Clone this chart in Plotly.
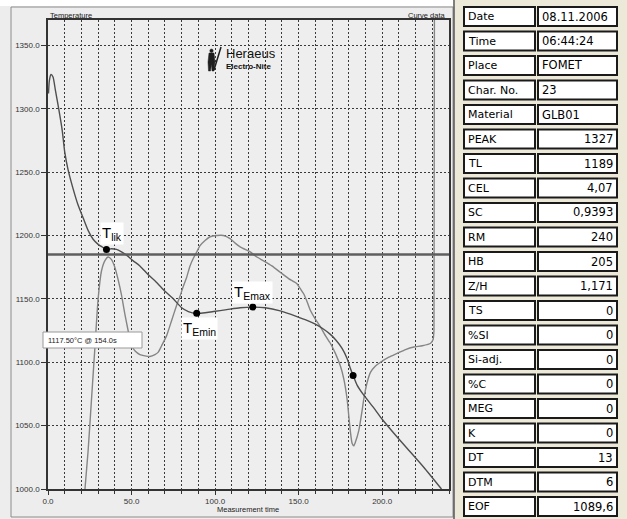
import plotly.graph_objects as go

# ---- thermal analysis data ----
# cooling curve: measurement time [s] / temperature [°C]
cool_t = [0.3, 0.8, 1.8, 3.0, 4.5, 6.4, 8.5, 10, 12, 15, 18, 21, 24, 27, 30, 33, 35,
          38, 41, 44, 47, 51, 55, 60, 65, 70, 75, 80, 84, 89, 94, 99, 107, 115, 122.6,
          130, 139, 149, 155, 160, 165, 169, 172, 176, 179, 181, 182.6, 185, 189, 195,
          200, 207, 215, 225, 235.5]
cool_T = [1312, 1322, 1327, 1325, 1314, 1300, 1283, 1266, 1252, 1237, 1224, 1214, 1204,
          1197, 1193, 1190.5, 1189, 1189.5, 1189, 1187, 1184.5, 1180, 1176, 1169, 1163,
          1156, 1150, 1143, 1140, 1138.6, 1139, 1140, 1141.5, 1143, 1143.5, 1143, 1140.5,
          1136, 1133, 1130, 1126, 1122, 1118, 1111, 1103, 1095, 1089.6, 1082, 1074, 1064,
          1055, 1044, 1032, 1017, 1000]

# second curve
deriv_t = [21.5, 24, 26, 28, 30, 32, 34, 36, 38, 40, 42, 44, 46, 47.5, 49, 50.5, 52, 55,
           58, 61, 64, 66, 68, 71, 74, 77, 79, 81, 83, 85, 87, 89, 91, 94, 97, 101, 105,
           109, 112, 115, 118, 121, 125, 129, 134, 139, 144, 149, 151, 153, 155, 157, 160,
           163, 166, 169, 172, 175, 177, 179, 180, 181, 182, 183, 184, 186, 188, 189, 191,
           193, 196, 199, 204, 209, 214, 219, 224, 229, 230.5, 231, 231.3]
deriv_T = [990, 1030, 1070, 1110, 1150, 1172, 1180, 1183, 1181, 1175, 1165, 1153, 1138,
           1128, 1118, 1112, 1109, 1106, 1105, 1104.5, 1106, 1108, 1113, 1121, 1133, 1145,
           1152, 1160, 1167, 1176, 1182, 1187, 1192, 1196, 1199, 1200, 1200, 1197.5, 1194,
           1191, 1189, 1187, 1183, 1180, 1176, 1171, 1166, 1162, 1158, 1154, 1148, 1141,
           1134, 1128, 1121, 1115, 1107, 1097, 1087, 1071, 1058, 1045, 1036, 1034, 1037,
           1046, 1062, 1071, 1084, 1092, 1097, 1100, 1104, 1107, 1110, 1112, 1113, 1115,
           1118, 1125, 1400]

level_T = 1185

# characteristic points
pt_sub = ["lik", "Emin", "Emax"]
pt_t = [35, 89, 122.6, 182.6]
pt_T = [1189, 1138.6, 1143.5, 1089.6]

cursor_text = "1117.50°C @ 154.0s"

# curve data table
tab_labels = ["Date", "Time", "Place", "Char. No.", "Material", "PEAK", "TL", "CEL", "SC",
              "RM", "HB", "Z/H", "TS", "%SI", "Si-adj.", "%C", "MEG", "K", "DT", "DTM", "EOF"]
tab_values = ["08.11.2006", "06:44:24", "FOMET", "23", "GLB01", "1327", "1189", "4,07",
              "0,9393", "240", "205", "1,171", "0", "0", "0", "0", "0", "0", "13", "6", "1089,6"]
n_text_rows = 5  # first rows hold text values (left aligned)

# ---- layout geometry (pixels) ----
W, H = 627, 519
PL, PR, PT, PB = 48, 449, 20, 489


def px(x):
    return (x - PL) / (PR - PL)


def py(y):
    return (PB - y) / (PB - PT)


fig = go.Figure()

fig.add_trace(go.Scatter(x=deriv_t, y=deriv_T, mode="lines",
                         line=dict(color="#858585", width=1.4, shape="spline", smoothing=0.5),
                         hoverinfo="skip"))
fig.add_trace(go.Scatter(x=cool_t, y=cool_T, mode="lines",
                         line=dict(color="#4f4f4f", width=1.4, shape="spline", smoothing=0.6),
                         hoverinfo="skip"))
fig.add_trace(go.Scatter(x=pt_t, y=pt_T, mode="markers",
                         marker=dict(color="black", size=7), hoverinfo="skip"))

shapes = []
annos = []

# horizontal level line
shapes.append(dict(type="line", xref="paper", yref="y", x0=0, x1=1, y0=level_T, y1=level_T,
                   line=dict(color="#5e5e5e", width=2.5)))

# background areas: top white strip, table area, panel frame
shapes.append(dict(type="rect", xref="paper", yref="paper", x0=px(0), x1=px(456),
                   y0=py(6), y1=py(-2), fillcolor="white", line=dict(width=0), layer="below"))
shapes.append(dict(type="rect", xref="paper", yref="paper", x0=px(455), x1=px(630),
                   y0=py(522), y1=py(-2), fillcolor="#ece9d8", line=dict(width=0), layer="below"))
shapes.append(dict(type="rect", xref="paper", yref="paper", x0=px(11), x1=px(453),
                   y0=py(517), y1=py(7), fillcolor="rgba(0,0,0,0)",
                   line=dict(color="#8c8c8c", width=1)))
shapes.append(dict(type="line", xref="paper", yref="paper", x0=px(454), x1=px(454),
                   y0=py(519), y1=py(0), line=dict(color="#555", width=1.5)))

# cursor readout box
shapes.append(dict(type="rect", xref="paper", yref="paper", x0=px(43), x1=px(142),
                   y0=py(348), y1=py(332), fillcolor="white", line=dict(color="#999", width=1)))
annos.append(dict(xref="paper", yref="paper", x=px(46), y=py(340), text=cursor_text,
                  showarrow=False, xanchor="left", yanchor="middle",
                  font=dict(family="Arial", size=7.5, color="#222")))

# point labels
lab_pos = [(111.5, 234), (199, 328), (252.5, 292.5)]
for sub, (lx, ly) in zip(pt_sub, lab_pos):
    annos.append(dict(xref="paper", yref="paper", x=px(lx), y=py(ly),
                      text="T<sub>" + sub + "</sub>", showarrow=False,
                      xanchor="center", yanchor="middle", bgcolor="white", borderpad=1,
                      font=dict(family="Arial", size=15, color="black")))

# axis captions
annos.append(dict(xref="paper", yref="paper", x=px(48), y=py(15), text="Temperature",
                  showarrow=False, xanchor="left", yanchor="middle",
                  font=dict(family="Arial", size=7.5, color="#222")))
annos.append(dict(xref="paper", yref="paper", x=px(448), y=py(15), text="Curve data",
                  showarrow=False, xanchor="right", yanchor="middle",
                  font=dict(family="Arial", size=7.5, color="#222")))
annos.append(dict(xref="paper", yref="paper", x=px(248), y=py(510), text="Measurement time",
                  showarrow=False, xanchor="center", yanchor="middle",
                  font=dict(family="Arial", size=7.5, color="#222")))


# Heraeus logo
def path_pts(pts):
    return "M " + " L ".join(f"{px(a):.5f},{py(b):.5f}" for a, b in pts) + " Z"


shapes.append(dict(type="path", xref="paper", yref="paper",
                   path=path_pts([(209, 53), (214, 53), (215, 62), (214, 71), (212, 71),
                                  (211.5, 64), (210.5, 71), (208.5, 71), (208, 62)]),
                   fillcolor="#1e1e1e", line=dict(color="#1e1e1e", width=0.5)))
shapes.append(dict(type="circle", xref="paper", yref="paper",
                   x0=px(209.8), x1=px(213.2), y0=py(52.5), y1=py(49),
                   fillcolor="#1e1e1e", line=dict(color="#1e1e1e", width=0.5)))
shapes.append(dict(type="line", xref="paper", yref="paper",
                   x0=px(214), y0=py(70), x1=px(221), y1=py(47),
                   line=dict(color="#1e1e1e", width=1.5)))
annos.append(dict(xref="paper", yref="paper", x=px(224), y=py(53), text="Heraeus",
                  showarrow=False, xanchor="left", yanchor="middle",
                  font=dict(family="Arial", size=13, color="#111")))
annos.append(dict(xref="paper", yref="paper", x=px(224), y=py(66.5), text="<b>Electro-Nite</b>",
                  showarrow=False, xanchor="left", yanchor="middle",
                  font=dict(family="Arial", size=8, color="#111")))

# curve data table
row_top0, row_pitch, row_h = 7, 24.5, 19
lx0, lx1, vx0, vx1 = 464, 535, 538, 617
for i, (lab, val) in enumerate(zip(tab_labels, tab_values)):
    top = row_top0 + i * row_pitch
    bot = top + row_h
    cy = (top + bot) / 2
    for a, b in ((lx0, lx1), (vx0, vx1)):
        shapes.append(dict(type="rect", xref="paper", yref="paper",
                           x0=px(a), x1=px(b), y0=py(bot), y1=py(top),
                           fillcolor="white", line=dict(color="#1a1a1a", width=2)))
    annos.append(dict(xref="paper", yref="paper", x=px(lx0 + 2), y=py(cy), text=lab,
                      showarrow=False, xanchor="left", yanchor="middle",
                      font=dict(family="DejaVu Sans", size=11, color="black")))
    if i < n_text_rows:
        annos.append(dict(xref="paper", yref="paper", x=px(vx0 + 2), y=py(cy), text=val,
                          showarrow=False, xanchor="left", yanchor="middle",
                          font=dict(family="DejaVu Sans", size=11.5, color="black")))
    else:
        annos.append(dict(xref="paper", yref="paper", x=px(vx1 - 2), y=py(cy), text=val,
                          showarrow=False, xanchor="right", yanchor="middle",
                          font=dict(family="DejaVu Sans", size=11.5, color="black")))

grid_style = dict(showgrid=True, gridcolor="#3a3a3a", gridwidth=1, griddash="2px,2px")

fig.update_layout(
    width=W, height=H,
    margin=dict(l=PL, r=W - PR, t=PT, b=H - PB, pad=0),
    paper_bgcolor="#ededed", plot_bgcolor="#eeeeee",
    showlegend=False,
    shapes=shapes, annotations=annos,
    xaxis=dict(range=[0, 240], dtick=50, tick0=0, tickformat=".1f",
               ticks="outside", ticklen=4, tickcolor="#333",
               showline=True, linecolor="#333", linewidth=1.5, mirror=True,
               zeroline=False,
               tickfont=dict(family="Arial", size=8, color="#333"),
               minor=dict(dtick=10, ticks="outside", ticklen=3, tickcolor="#333",
                          **grid_style),
               **grid_style),
    yaxis=dict(range=[1000, 1370], dtick=50, tick0=1000, tickformat=".1f",
               ticks="outside", ticklen=5, tickcolor="#333",
               showline=True, linecolor="#333", linewidth=1.5, mirror=True,
               zeroline=False,
               tickfont=dict(family="Arial", size=8, color="#333"),
               **grid_style),
)

fig.write_html("out.html")
